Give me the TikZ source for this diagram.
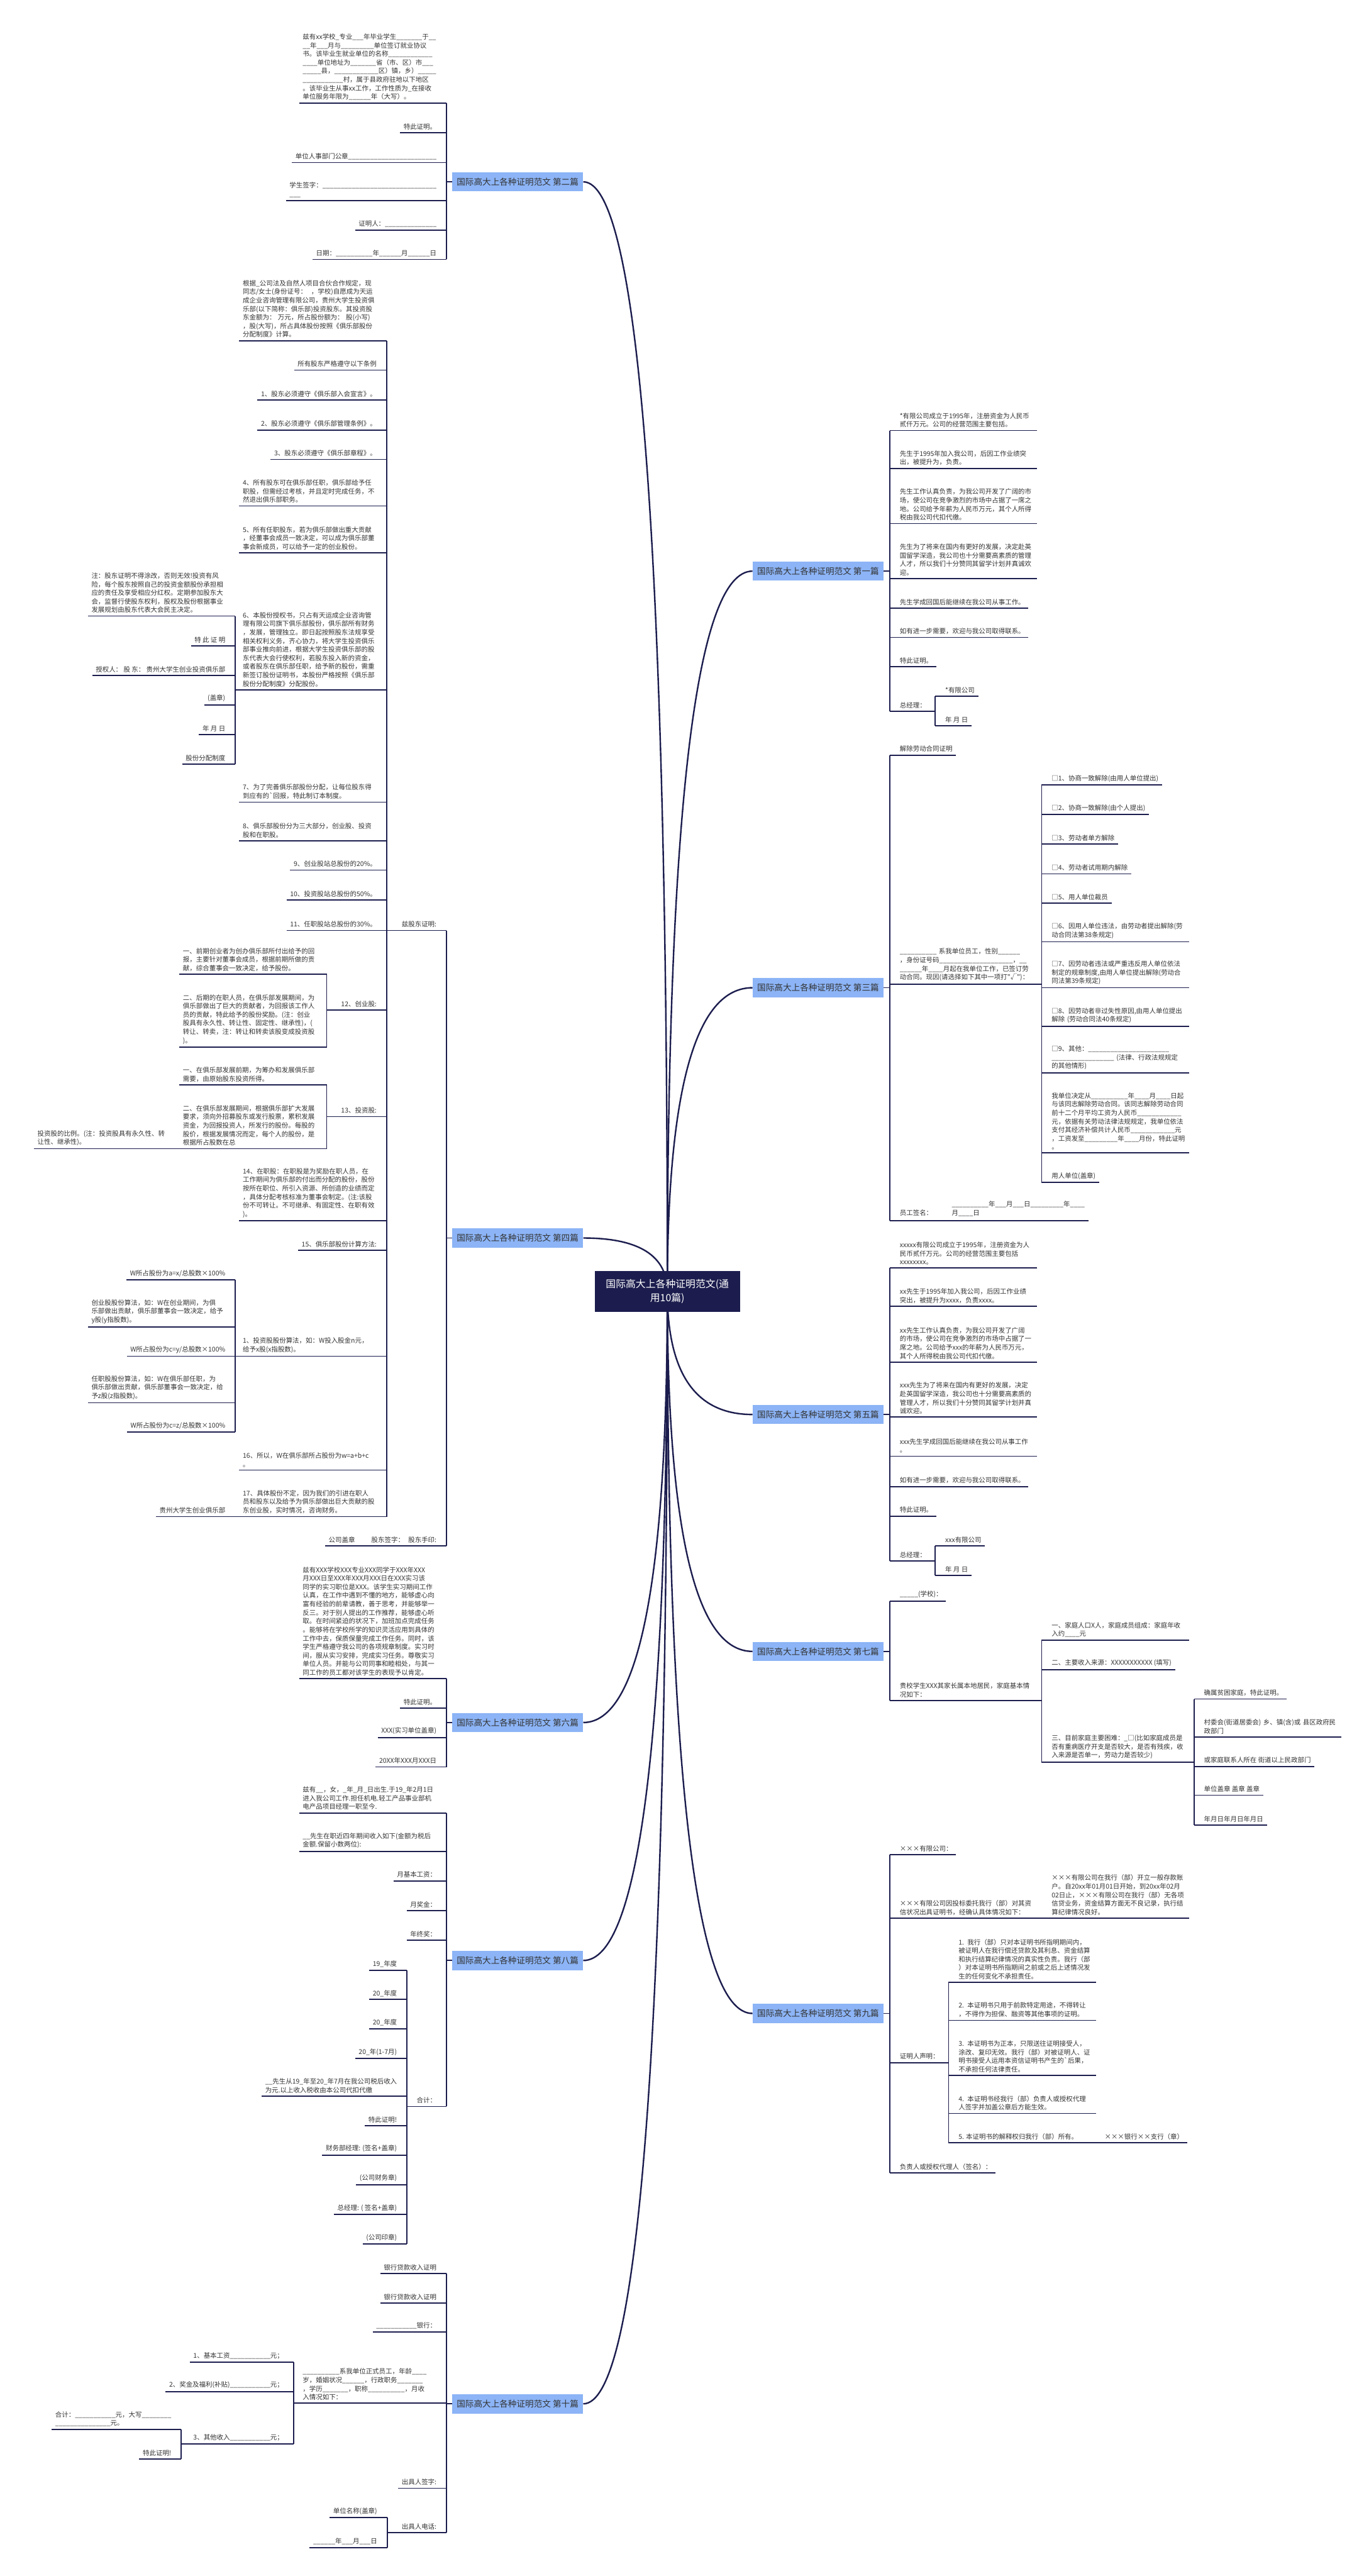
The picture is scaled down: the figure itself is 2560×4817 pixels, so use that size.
\documentclass[tikz,border=0pt]{standalone}
\usepackage{fontspec}
\usepackage{tikz}
\usetikzlibrary{calc,backgrounds}
\newfontfamily\cjk{Noto Sans CJK SC}
\definecolor{navy}{HTML}{1C1D4E}
\definecolor{topicblue}{HTML}{8CB4F6}
\definecolor{leaftext}{HTML}{333333}
\newcommand{\leaffont}{\cjk\fontsize{3.5pt}{4.55pt}\selectfont}
\newcommand{\topicfont}{\cjk\fontsize{4.55pt}{5.5pt}\selectfont}
\newcommand{\rootfont}{\cjk\fontsize{5.3pt}{7.2pt}\selectfont}
\tikzset{
  leaf/.style={font=\leaffont, text=leaftext, inner xsep=0.06cm, inner ysep=0.05cm, align=left},
  blk/.style={leaf, text width=2.5cm},
  ln/.style={draw=navy, line width=0.6pt},
  cv/.style={draw=navy, line width=0.8pt},
  topic/.style={fill=topicblue, font=\topicfont, text=leaftext, minimum width=2.44cm, minimum height=0.36cm, inner sep=0pt},
  rootbox/.style={fill=navy, font=\rootfont, text=white, minimum width=2.71cm, minimum height=0.77cm, text width=2.4cm, align=center, inner sep=0pt}
}
% leaf left / right of a trunk: [style]{name}{trunk}{line y}{text}
\newcommand{\lfL}[5][leaf]{%
  \node[#1, anchor=south east] (#2) at ($(#3 |- 0,#4)+(-12,0)$) {#5};
  \draw[ln] (#2.south west) -- (#2.south west -| #3);}
\newcommand{\lfR}[5][leaf]{%
  \node[#1, anchor=south west] (#2) at ($(#3 |- 0,#4)+(12,0)$) {#5};
  \draw[ln] (#2.south east) -- (#2.south east -| #3);}
\newcommand{\trunk}[3]{\draw[ln] (#1 |- 0,#2) -- (#1 |- 0,#3);}
\newcommand{\hookup}[3]{\draw[ln] (#1 |- 0,#3) -- (#2 |- 0,#3);}
\newcommand{\topiccurve}[1]{\draw[cv] (root.center) .. controls ($(root.center)!0.667!(root.center |- #1)$) and ($(#1)!0.667!(root.center |- #1)$) .. (#1);}

\begin{document}
\catcode`\_=12
\begin{tikzpicture}[x=0.01cm, y=-0.01cm]
\useasboundingbox (0,0) rectangle (2560,4817);

% trunks
\coordinate (tL) at (835,0);
\coordinate (tR) at (1664,0);
\coordinate (s4) at (723,0);
\coordinate (s48) at (440,0);
\coordinate (s412) at (611,0);
\coordinate (s4132) at (339,0);
\coordinate (s8) at (761,0);
\coordinate (s10) at (549,0);
\coordinate (s103) at (339,0);
\coordinate (s106) at (724,0);
\coordinate (s1) at (1749,0);
\coordinate (s3) at (1948,0);
\coordinate (s73) at (2233,0);
\coordinate (s92) at (1774,0);
\coordinate (s925) at (2047,0);

% root
\node[rootbox] (root) at (1248,2415) {国际高大上各种证明范文(通\\用10篇)};

% ---------- 第二篇
\node[topic] (b2) at (968,340) {国际高大上各种证明范文 第二篇};
\draw[ln] (b2.west) -- (b2.west -| tL);
\trunk{tL}{193}{485}
\lfL[blk]{b2a}{tL}{193}{兹有xx学校_专业___年毕业学生_______于__\\__年___月与_________单位签订就业协议\\书。该毕业生就业单位的名称____________\\____单位地址为_______省（市、区）市___\\_____县，____________区）镇，乡）_____\\___________村，属于县政府驻地以下地区\\。该毕业生从事xx工作，工作性质为_在接收\\单位服务年限为______年（大写）。}
\lfL{b2b}{tL}{248}{特此证明。}
\lfL{b2c}{tL}{304}{单位人事部门公章________________________}
\lfL{b2d}{tL}{375}{学生签字：_______________________________\\___}
\lfL{b2e}{tL}{430}{证明人：______________}
\lfL{b2f}{tL}{485}{日期：__________年______月______日}

% ---------- 第四篇
\node[topic] (b4) at (968,2315) {国际高大上各种证明范文 第四篇};
\draw[ln] (b4.west) -- (b4.west -| tL);
\trunk{tL}{1740}{2891}
\lfL{b4z}{tL}{1740}{兹股东证明:}
\hookup{s4}{tL}{1740}
\lfL{b4g}{tL}{2891}{公司盖章\hspace{2.5em}股东签字：\hspace{0.6em}股东手印:}
\trunk{s4}{637}{2836}
\lfL[blk]{c1}{s4}{637}{根据_公司法及自然人项目合伙合作规定，现\\同志/女士(身份证号：\ \ ，学校)自愿成为天运\\成企业咨询管理有限公司，贵州大学生投资俱\\乐部(以下简称：俱乐部)投资股东。其投资股\\东金额为：\ 万元，所占股份额为：\ 股(小写)\\，股(大写)，所占具体股份按照《俱乐部股份\\分配制度》计算。}
\lfL{c2}{s4}{692}{所有股东严格遵守以下条例}
\lfL{c3}{s4}{748}{1、股东必须遵守《俱乐部入会宣言》。}
\lfL{c4}{s4}{804}{2、股东必须遵守《俱乐部管理条例》。}
\lfL{c5}{s4}{859}{3、股东必须遵守《俱乐部章程》。}
\lfL[blk]{c6}{s4}{946}{4、所有股东可在俱乐部任职，俱乐部给予任\\职股，但需经过考核，并且定时完成任务，不\\然退出俱乐部职务。}
\lfL[blk]{c7}{s4}{1034}{5、所有任职股东，若为俱乐部做出重大贡献\\，经董事会成员一致决定，可以成为俱乐部董\\事会新成员，可以给予一定的创业股份。}
\lfL[blk]{c8}{s4}{1290}{6、本股份授权书，只占有天运成企业咨询管\\理有限公司旗下俱乐部股份，俱乐部所有财务\\，发展，管理独立。即日起按照股东法规享受\\相关权利义务，齐心协力，将大学生投资俱乐\\部事业推向前进，根据大学生投资俱乐部的股\\东代表大会行使权利，若股东投入新的资金，\\或者股东在俱乐部任职，给予新的股份，需重\\新签订股份证明书，本股份严格按照《俱乐部\\股份分配制度》分配股份。}
\hookup{s48}{s4}{1290}
\trunk{s48}{1152}{1429}
\lfL[blk]{d1}{s48}{1152}{注：股东证明不得涂改，否则无效!投资有风\\险，每个股东按照自己的投资金额股份承担相\\应的责任及享受相应分红权。定期参加股东大\\会，监督行使股东权利，股权及股份根据事业\\发展规划由股东代表大会民主决定。}
\lfL{d2}{s48}{1208}{特 此 证 明}
\lfL{d3}{s48}{1263}{授权人：\ 股 东：\ 贵州大学生创业投资俱乐部}
\lfL{d4}{s48}{1318}{(盖章)}
\lfL{d5}{s48}{1374}{年 月 日}
\lfL{d6}{s48}{1429}{股份分配制度}
\lfL[blk]{c9}{s4}{1500}{7、为了完善俱乐部股份分配，让每位股东得\\到应有的`回报，特此制订本制度。}
\lfL[blk]{c10}{s4}{1572}{8、俱乐部股份分为三大部分，创业股、投资\\股和在职股。}
\lfL{c11}{s4}{1627}{9、创业股站总股份的20\%。}
\lfL{c12}{s4}{1683}{10、投资股站总股份的50\%。}
\lfL{c13}{s4}{1740}{11、任职股站总股份的30\%。}
\lfL{c14}{s4}{1889}{12、创业股:}
\hookup{s412}{s4}{1889}
\trunk{s412}{1822}{1958}
\lfL[blk]{e1}{s412}{1822}{一、前期创业者为创办俱乐部所付出给予的回\\报，主要针对董事会成员，根据前期所做的贡\\献，综合董事会一致决定，给予股份。}
\lfL[blk]{e2}{s412}{1958}{二、后期的在职人员，在俱乐部发展期间，为\\俱乐部做出了巨大的贡献者，为回报该工作人\\员的贡献，特此给予的股份奖励。(注：创业\\股具有永久性、转让性、固定性、继承性)，(\\转让、转卖，注：转让和转卖该股变成投资股\\)。}
\lfL{c15}{s4}{2088}{13、投资股:}
\hookup{s412}{s4}{2088}
\trunk{s412}{2029}{2148}
\lfL[blk]{f1}{s412}{2029}{一、在俱乐部发展前期，为筹办和发展俱乐部\\需要，由原始股东投资所得。}
\lfL[blk]{f2}{s412}{2148}{二、在俱乐部发展期间，根据俱乐部扩大发展\\要求，须向外招募股东或发行股票，累积发展\\资金，为回报投资人，所发行的股份。每股的\\股价，根据发展情况而定，每个人的股份，是\\根据所占股数在总}
\hookup{s4132}{s412}{2148}
\lfL[blk]{g1}{s4132}{2148}{投资股的比例。(注：投资股具有永久性、转\\让性、继承性)。}
\lfL[blk]{c16}{s4}{2283}{14、在职股：在职股是为奖励在职人员，在\\工作期间为俱乐部的付出而分配的股份，股份\\按所在职位、所引入资源、所创造的业绩而定\\，具体分配考核标准为董事会制定。(注:该股\\份不可转让。不可继承、有固定性、在职有效\\)。}
\lfL{c17}{s4}{2338}{15、俱乐部股份计算方法:}
\lfL[blk]{c18}{s4}{2536}{1、投资股股份算法，如：W投入股金n元，\\给予x股(x指股数)。}
\hookup{s48}{s4}{2536}
\trunk{s48}{2393}{2678}
\lfL{h1}{s48}{2393}{W所占股份为a=x/总股数×100\%}
\lfL[blk]{h2}{s48}{2481}{创业股股份算法，如：W在创业期间，为俱\\乐部做出贡献，俱乐部董事会一致决定，给予\\y股(y指股数)。}
\lfL{h3}{s48}{2536}{W所占股份为c=y/总股数×100\%}
\lfL[blk]{h4}{s48}{2623}{任职股股份算法，如：W在俱乐部任职，为\\俱乐部做出贡献，俱乐部董事会一致决定，给\\予z股(z指股数)。}
\lfL{h5}{s48}{2678}{W所占股份为c=z/总股数×100\%}
\lfL[blk]{c19}{s4}{2749}{16、所以，W在俱乐部所占股份为w=a+b+c\\。}
\lfL[blk]{c20}{s4}{2836}{17、具体股份不定，因为我们的引进在职人\\员和股东以及给予为俱乐部做出巨大贡献的股\\东创业股，实时情况，咨询财务。}
\hookup{s48}{s4}{2836}
\lfL{i1}{s48}{2836}{贵州大学生创业俱乐部}

% ---------- 第六篇
\node[topic] (b6) at (968,3221) {国际高大上各种证明范文 第六篇};
\draw[ln] (b6.west) -- (b6.west -| tL);
\trunk{tL}{3139}{3304}
\lfL[blk]{b6a}{tL}{3139}{兹有XXX学校XXX专业XXX同学于XXX年XXX\\月XXX日至XXX年XXX月XXX日在XXX实习该\\同学的实习职位是XXX。该学生实习期间工作\\认真，在工作中遇到不懂的地方，能够虚心向\\富有经验的前辈请教，善于思考，并能够举一\\反三。对于别人提出的工作推荐，能够虚心听\\取。在时间紧迫的状况下，加班加点完成任务\\。能够将在学校所学的知识灵活应用到具体的\\工作中去，保质保量完成工作任务。同时，该\\学生严格遵守我公司的各项规章制度。实习时\\间，服从实习安排，完成实习任务。尊敬实习\\单位人员。并能与公司同事和睦相处，与其一\\同工作的员工都对该学生的表现予以肯定。}
\lfL{b6b}{tL}{3194}{特此证明。}
\lfL{b6c}{tL}{3249}{XXX(实习单位盖章)}
\lfL{b6d}{tL}{3304}{20XX年XXX月XXX日}

% ---------- 第八篇
\node[topic] (b8) at (968,3666) {国际高大上各种证明范文 第八篇};
\draw[ln] (b8.west) -- (b8.west -| tL);
\trunk{tL}{3390}{3939}
\lfL[blk]{b8a}{tL}{3390}{兹有__，女，_年_月_日出生.于19_年2月1日\\进入我公司工作.担任机电.轻工产品事业部机\\电产品项目经理一职至今.}
\lfL[blk]{b8b}{tL}{3462}{__先生在职近四年期间收入如下(金额为税后\\金额.保留小数两位):}
\lfL{b8c}{tL}{3517}{月基本工资：}
\lfL{b8d}{tL}{3573}{月奖金：}
\lfL{b8e}{tL}{3628}{年终奖：}
\lfL{b8f}{tL}{3939}{合计：}
\hookup{s8}{tL}{3939}
\trunk{s8}{3684}{4196}
\lfL{j1}{s8}{3684}{19_年度}
\lfL{j2}{s8}{3739}{20_年度}
\lfL{j3}{s8}{3794}{20_年度}
\lfL{j4}{s8}{3849}{20_年(1-7月)}
\lfL{j5}{s8}{3920}{__先生从19_年至20_年7月在我公司税后收入\\为元.以上收入税收由本公司代扣代缴}
\lfL{j6}{s8}{3975}{特此证明!}
\lfL{j7}{s8}{4030}{财务部经理: (签名+盖章)}
\lfL{j8}{s8}{4085}{(公司财务章)}
\lfL{j9}{s8}{4141}{总经理: ( 签名+盖章)}
\lfL{j10}{s8}{4196}{(公司印章)}

% ---------- 第十篇
\node[topic] (b10) at (968,4495) {国际高大上各种证明范文 第十篇};
\draw[ln] (b10.west) -- (b10.west -| tL);
\trunk{tL}{4251}{4736}
\lfL{k1}{tL}{4251}{银行贷款收入证明}
\lfL{k2}{tL}{4307}{银行贷款收入证明}
\lfL{k3}{tL}{4361}{___________银行：}
\lfL[blk]{k4}{tL}{4494}{__________系我单位正式员工，年龄____\\岁，婚姻状况______，行政职务_______\\，学历_______，职称__________，月收\\入情况如下：}
\hookup{s10}{tL}{4494}
\trunk{s10}{4417}{4570}
\lfL{l1}{s10}{4417}{1、基本工资___________元；}
\lfL{l2}{s10}{4472}{2、奖金及福利(补贴)___________元；}
\lfL{l3}{s10}{4570}{3、其他收入___________元；}
\hookup{s103}{s10}{4570}
\trunk{s103}{4543}{4598}
\lfL{m1}{s103}{4543}{合计：___________元，大写________\\_______________元。}
\lfL{m2}{s103}{4598}{特此证明!}
\lfL{k5}{tL}{4653}{出具人签字:}
\lfL{k6}{tL}{4736}{出具人电话:}
\hookup{s106}{tL}{4736}
\trunk{s106}{4708}{4764}
\lfL{n1}{s106}{4708}{单位名称(盖章)}
\lfL{n2}{s106}{4764}{______年___月___日}

% ---------- 第一篇
\node[topic] (b1) at (1530,1068) {国际高大上各种证明范文 第一篇};
\draw[ln] (b1.east) -- (b1.east -| tR);
\trunk{tR}{805}{1330}
\lfR[blk]{r1a}{tR}{805}{*有限公司成立于1995年，注册资金为人民币\\贰仟万元。公司的经营范围主要包括。}
\lfR[blk]{r1b}{tR}{876}{先生于1995年加入我公司，后因工作业绩突\\出，被提升为，负责。}
\lfR[blk]{r1c}{tR}{979}{先生工作认真负责，为我公司开发了广阔的市\\场，使公司在竞争激烈的市场中占据了一席之\\地。公司给予年薪为人民币万元，其个人所得\\税由我公司代扣代缴。}
\lfR[blk]{r1d}{tR}{1082}{先生为了将来在国内有更好的发展，决定赴英\\国留学深造，我公司也十分需要高素质的管理\\人才，所以我们十分赞同其留学计划并真诚欢\\迎。}
\lfR{r1e}{tR}{1137}{先生学成回国后能继续在我公司从事工作。}
\lfR{r1f}{tR}{1192}{如有进一步需要，欢迎与我公司取得联系。}
\lfR{r1g}{tR}{1247}{特此证明。}
\lfR{r1h}{tR}{1330}{总经理：}
\hookup{s1}{tR}{1330}
\trunk{s1}{1302}{1357}
\lfR{r1i}{s1}{1302}{*有限公司}
\lfR{r1j}{s1}{1357}{年 月 日}

% ---------- 第三篇
\node[topic] (b3) at (1530,1847) {国际高大上各种证明范文 第三篇};
\draw[ln] (b3.east) -- (b3.east -| tR);
\trunk{tR}{1412}{2283}
\lfR{r3a}{tR}{1412}{解除劳动合同证明}
\lfR[blk]{r3b}{tR}{1840}{__________ 系我单位员工，性别______\\，身份证号码____________________，__\\______年____月起在我单位工作，已签订劳\\动合同。现因(请选择如下其中一项打"√")：}
\hookup{s3}{tR}{1840}
\trunk{s3}{1468}{2211}
\lfR{r3c}{s3}{1468}{□1、协商一致解除(由用人单位提出)}
\lfR{r3d}{s3}{1523}{□2、协商一致解除(由个人提出)}
\lfR{r3e}{s3}{1578}{□3、劳动者单方解除}
\lfR{r3f}{s3}{1634}{□4、劳动者试用期内解除}
\lfR{r3g}{s3}{1689}{□5、用人单位裁员}
\lfR[blk]{r3h}{s3}{1761}{□6、因用人单位违法，由劳动者提出解除(劳\\动合同法第38条规定)}
\lfR[blk]{r3i}{s3}{1847}{□7、因劳动者违法或严重违反用人单位依法\\制定的规章制度,由用人单位提出解除(劳动合\\同法第39条规定)}
\lfR[blk]{r3j}{s3}{1919}{□8、因劳动者非过失性原因,由用人单位提出\\解除 (劳动合同法40条规定)}
\lfR[blk]{r3k}{s3}{2006}{□9、其他：______________________\\_________________ (法律、行政法规规定\\的其他情形)}
\lfR[blk]{r3l}{s3}{2156}{我单位决定从__________年____月____日起\\与该同志解除劳动合同。该同志解除劳动合同\\前十二个月平均工资为人民币____________\\元，依据有关劳动法律法规规定，我单位依法\\支付其经济补偿共计人民币____________元\\，工资发至_________年____月份，特此证明\\。}
\lfR{r3m}{s3}{2211}{用人单位(盖章)}
\lfR{r3n}{tR}{2283}{\begin{tabular}{@{}l@{\hspace{2.9em}}l@{}} & __________年___月___日_________年____\\ 员工签名： & 月____日\end{tabular}}

% ---------- 第五篇
\node[topic] (b5) at (1530,2645) {国际高大上各种证明范文 第五篇};
\draw[ln] (b5.east) -- (b5.east -| tR);
\trunk{tR}{2371}{2919}
\lfR[blk]{r5a}{tR}{2371}{xxxxx有限公司成立于1995年，注册资金为人\\民币贰仟万元。公司的经营范围主要包括\\xxxxxxxx。}
\lfR[blk]{r5b}{tR}{2443}{xx先生于1995年加入我公司，后因工作业绩\\突出，被提升为xxxx，负责xxxx。}
\lfR[blk]{r5c}{tR}{2547}{xx先生工作认真负责，为我公司开发了广阔\\的市场，使公司在竞争激烈的市场中占据了一\\席之地。公司给予xxx的年薪为人民币万元，\\其个人所得税由我公司代扣代缴。}
\lfR[blk]{r5d}{tR}{2650}{xxx先生为了将来在国内有更好的发展，决定\\赴英国留学深造，我公司也十分需要高素质的\\管理人才，所以我们十分赞同其留学计划并真\\诚欢迎。}
\lfR[blk]{r5e}{tR}{2723}{xxx先生学成回国后能继续在我公司从事工作\\。}
\lfR{r5f}{tR}{2780}{如有进一步需要，欢迎与我公司取得联系。}
\lfR{r5g}{tR}{2835}{特此证明。}
\lfR{r5h}{tR}{2919}{总经理：}
\hookup{s1}{tR}{2919}
\trunk{s1}{2891}{2946}
\lfR{r5i}{s1}{2891}{xxx有限公司}
\lfR{r5j}{s1}{2946}{年 月 日}

% ---------- 第七篇
\node[topic] (b7) at (1530,3088) {国际高大上各种证明范文 第七篇};
\draw[ln] (b7.east) -- (b7.east -| tR);
\trunk{tR}{2994}{3180}
\lfR{r7a}{tR}{2994}{_____(学校)：}
\lfR[blk]{r7b}{tR}{3180}{贵校学生XXX其家长属本地居民，家庭基本情\\况如下：}
\hookup{s3}{tR}{3180}
\trunk{s3}{3067}{3295}
\lfR[blk]{r7c}{s3}{3067}{一、家庭人口X人，家庭成员组成：家庭年收\\入约____元}
\lfR{r7d}{s3}{3122}{二、主要收入来源：XXXXXXXXXXX (填写)}
\lfR[blk]{r7e}{s3}{3295}{三、目前家庭主要困难：_□(比如家庭成员是\\否有重病医疗开支是否较大，是否有残疾，收\\入来源是否单一，劳动力是否较少)}
\hookup{s73}{s3}{3295}
\trunk{s73}{3177}{3413}
\lfR{r7f}{s73}{3177}{确属贫困家庭，特此证明。}
\lfR[blk]{r7g}{s73}{3248}{村委会(街道居委会) 乡、镇(含)或 县区政府民\\政部门}
\lfR{r7h}{s73}{3303}{或家庭联系人所在 街道以上民政部门}
\lfR{r7i}{s73}{3357}{单位盖章 盖章 盖章}
\lfR{r7j}{s73}{3413}{年月日年月日年月日}

% ---------- 第九篇
\node[topic] (b9) at (1530,3765) {国际高大上各种证明范文 第九篇};
\draw[ln] (b9.east) -- (b9.east -| tR);
\trunk{tR}{3468}{4063}
\lfR{r9a}{tR}{3468}{×××有限公司：}
\lfR[blk]{r9b}{tR}{3587}{×××有限公司因投标委托我行（部）对其资\\信状况出具证明书，经确认具体情况如下：}
\hookup{s3}{tR}{3587}
\lfR[blk]{r9c}{s3}{3587}{×××有限公司在我行（部）开立一般存款账\\户。自20xx年01月01日开始，到20xx年02月\\02日止，×××有限公司在我行（部）无各项\\信贷业务，资金结算方面无不良记录，执行结\\算纪律情况良好。}
\lfR{r9d}{tR}{3857}{证明人声明：}
\hookup{s92}{tR}{3857}
\trunk{s92}{3707}{4007}
\lfR[blk]{r9e}{s92}{3707}{1. 我行（部）只对本证明书所指明期间内，\\被证明人在我行偿还贷款及其利息、资金结算\\和执行结算纪律情况的真实性负责。我行（部\\）对本证明书所指期间之前或之后上述情况发\\生的任何变化不承担责任。}
\lfR[blk]{r9f}{s92}{3778}{2. 本证明书只用于前款特定用途，不得转让\\，不得作为担保、融资等其他事项的证明。}
\lfR[blk]{r9g}{s92}{3881}{3. 本证明书为正本，只限送往证明接受人，\\涂改、复印无效。我行（部）对被证明人、证\\明书接受人运用本资信证明书产生的`后果，\\不承担任何法律责任。}
\lfR[blk]{r9h}{s92}{3952}{4. 本证明书经我行（部）负责人或授权代理\\人签字并加盖公章后方能生效。}
\lfR{r9i}{s92}{4007}{5. 本证明书的解释权归我行（部）所有。}
\hookup{s925}{s92}{4007}
\lfR{r9j}{s925}{4007}{×××银行××支行（章）}
\lfR{r9k}{tR}{4063}{负责人或授权代理人（签名）：}

% curves from the root
\begin{scope}[on background layer]
  \fill[white] (0,0) rectangle (2560,4817);
  \topiccurve{b2.east}
  \topiccurve{b4.east}
  \topiccurve{b6.east}
  \topiccurve{b8.east}
  \topiccurve{b10.east}
  \topiccurve{b1.west}
  \topiccurve{b3.west}
  \topiccurve{b5.west}
  \topiccurve{b7.west}
  \topiccurve{b9.west}
\end{scope}
\end{tikzpicture}
\end{document}
